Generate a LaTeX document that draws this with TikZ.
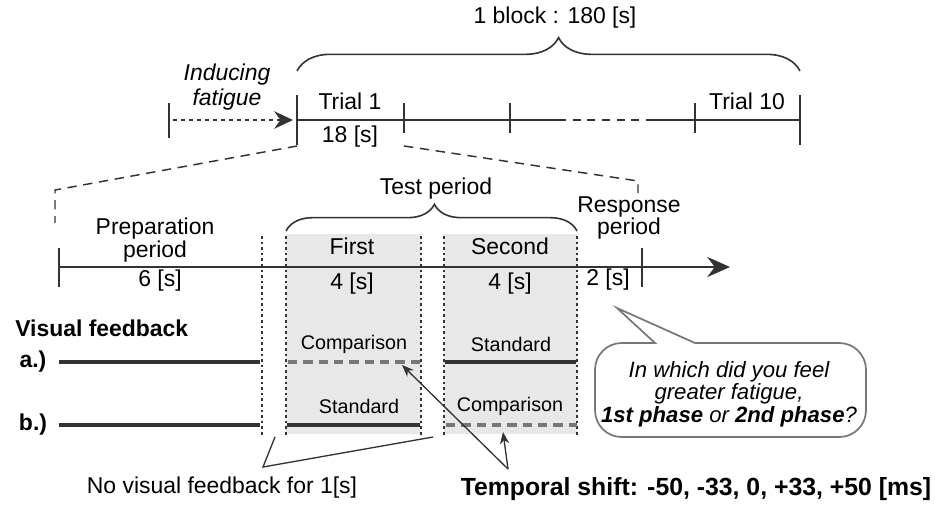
\documentclass[tikz,border=0pt]{standalone}
\usepackage{fontspec}
\setmainfont{Liberation Sans}
\usetikzlibrary{arrows.meta,decorations.pathreplacing}
\definecolor{ink}{HTML}{333333}
\definecolor{panelgrey}{HTML}{E8E8E8}
\definecolor{greyline}{HTML}{777777}
\tikzset{
  lbl/.style={inner sep=0pt, font=\fontsize{17.2}{19}\selectfont, align=center},
  small/.style={inner sep=0pt, font=\fontsize{14.8}{17}\selectfont},
  axis/.style={draw=ink, line width=2.1pt},
  tick/.style={draw=ink, line width=2.1pt},
  zoomline/.style={draw=ink, line width=1.1pt, dash pattern=on 7pt off 5pt},
  sep/.style={draw=ink, line width=1.6pt, dash pattern=on 2pt off 2.2pt},
  fbsolid/.style={draw=ink, line width=3.2pt},
  fbdash/.style={draw=greyline, line width=3.2pt, dash pattern=on 7pt off 4.5pt},
  bracestyle/.style={draw=ink, line width=1.2pt, decorate},
  pointer/.style={draw=ink, line width=1pt},
}
\begin{document}
\begin{tikzpicture}[x=0.75pt,y=-0.75pt]
\useasboundingbox (0,0) rectangle (935,504);

% ---------- block timeline ----------
\coordinate (s0) at (169,120);
\coordinate (t1) at (297,120);
\coordinate (t2) at (404,120);
\coordinate (t3) at (510,120);
\coordinate (t9) at (695,120);
\coordinate (t10) at (800,120);
\coordinate (g1) at (558,120);
\coordinate (g2) at (649,120);

\draw[tick] (169,103) -- (169,138);
\draw[tick] (297,95) -- (297,145);
\draw[tick] (404,103) -- (404,133);
\draw[tick] (510,103) -- (510,133);
\draw[tick] (695,103) -- (695,133);
\draw[tick] (800,95) -- (800,145);
\draw[axis] (t1) -- (g1);
\draw[draw=ink, line width=1.1pt, dash pattern=on 6pt off 5pt] (g1) -- (g2);
\draw[axis] (g2) -- (t10);
\draw[draw=ink, line width=2pt, dash pattern=on 3pt off 3pt,
      -{Stealth[length=14pt,width=13pt]}] ([xshift=3pt]s0) -- ([xshift=-3pt]t1);

\node[lbl, font=\fontsize{17.2}{19}\itshape] (ind) at (227,87) {Inducing\\fatigue};
\node[lbl] (tr1) at (350,101) {Trial 1};
\node[lbl] (tr10) at (747,101) {Trial 10};
\node[lbl] (dur) at (350,137) {18 [s]};

\draw[bracestyle, decoration={brace, amplitude=25pt, aspect=0.52}] (297,71) -- (800,71);
\node[lbl] (blk) at (555,18) {1 block : 180 [s]};

% ---------- trial timeline ----------
\fill[panelgrey] (286,234) rectangle (421,434);
\fill[panelgrey] (444,234) rectangle (577,434);

\coordinate (p0) at (59,267);
\coordinate (pend) at (730,267);
\draw[axis, -{Stealth[length=17pt,width=15pt]}] (p0) -- (pend);
\draw[tick] (59,248) -- (59,287);
\draw[tick] (642,248) -- (642,287);

\foreach \xx in {262,286,421,444,577}
  \draw[sep] (\xx,236) -- (\xx,435);

% zoom guides from trial 1 to its breakdown
\coordinate (zl) at (55,223);
\coordinate (zr) at (638,193);
\draw[zoomline] (297,146) -- (55,190) -- (zl);
\draw[zoomline] (404,146) -- (638,181) -- (zr);

\node[lbl, align=center, font=\fontsize{17.2}{16}\selectfont] (prep) at (155,240) {Preparation\\period};
\node[lbl] (prepd) at (160,281) {6 [s]};
\node[lbl] (first) at (352,246) {First};
\node[lbl] (firstd) at (352,284) {4 [s]};
\node[lbl] (second) at (510,246) {Second};
\node[lbl] (secondd) at (510,284) {4 [s]};
\node[lbl, align=center, font=\fontsize{17.2}{16}\selectfont] (resp) at (629,218) {Response\\period};
\node[lbl] (respd) at (608,280) {2 [s]};

\draw[bracestyle, decoration={brace, amplitude=20pt, aspect=0.51}] (286,231) -- (577,231);
\node[lbl] (test) at (436,189) {Test period};

% ---------- visual feedback rows ----------
\node[lbl, anchor=west, font=\fontsize{17.2}{19}\bfseries] (vf) at (15,328) {Visual feedback};
\node[lbl, font=\fontsize{17.2}{19}\bfseries] (ra) at (33,362) {a.)};
\node[lbl, font=\fontsize{17.2}{19}\bfseries] (rb) at (33,425) {b.)};

\draw[fbsolid] (59,362) -- (260,362);
\draw[fbsolid] (59,425) -- (260,425);

\coordinate (c1) at (421,362);
\coordinate (c2) at (577,425);
\draw[fbdash] (288,362) -- (c1);
\draw[fbsolid] (287,425) -- (420,425);
\draw[fbsolid] (445,362) -- (576,362);
\draw[fbdash] (446,425) -- (c2);

\node[small] (cmp1) at (354,344) {Comparison};
\node[small] (std1) at (359,406) {Standard};
\node[small] (std2) at (511,344) {Standard};
\node[small] (cmp2) at (510,406) {Comparison};

% ---------- annotations ----------
\coordinate (gapl) at (275,437);
\coordinate (gapr) at (433,437);
\coordinate (nvfv) at (263,467);
\draw[pointer] (gapl) -- (nvfv) -- (gapr);
\node[lbl] (nvf) at (222,488) {No visual feedback for 1[s]};

\coordinate (tsv) at (508,469);
\coordinate (tipa) at (402,365);
\coordinate (tipb) at (503,432);
\draw[pointer, -{Stealth[length=9pt,width=7pt]}] (tsv) -- (tipa);
\draw[pointer, -{Stealth[length=9pt,width=7pt]}] (tsv) -- (tipb);
\node[lbl, font=\fontsize{18.6}{20}\bfseries] (ts) at (696,489) {Temporal shift: -50, -33, 0, +33, +50 [ms]};

% ---------- question bubble ----------
\draw[draw=greyline, line width=1.3pt, fill=white]
  (617,308) -- (695,343) [rounded corners=20pt] -- (866,343) -- (866,437)
  -- (595,437) -- (595,343) [sharp corners] -- (655,343) -- cycle;
\node[lbl, font=\fontsize{16.6}{17}\itshape] (q) at (729,394)
  {In which did you feel\\greater fatigue,\\\textbf{1st phase} or \textbf{2nd phase}?};
\end{tikzpicture}
\end{document}
